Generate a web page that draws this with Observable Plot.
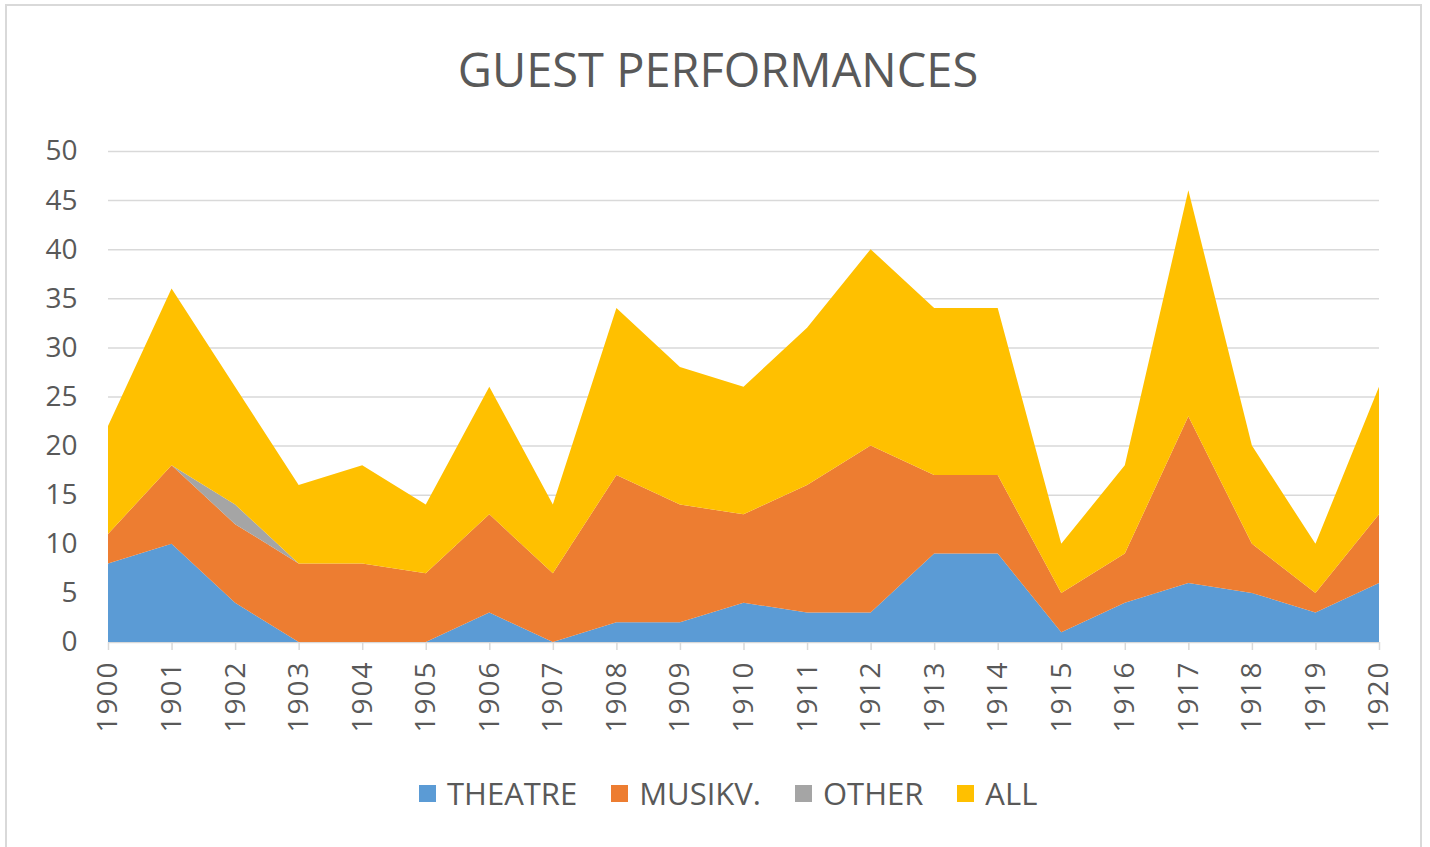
<!DOCTYPE html>
<html>
<head>
<meta charset="utf-8">
<script src="https://cdn.jsdelivr.net/npm/d3@7"></script>
<script src="https://cdn.jsdelivr.net/npm/@observablehq/plot@0.6"></script>
<style>
  html, body { margin: 0; padding: 0; background: #fff; width: 1430px; height: 847px; overflow: hidden; }
  #frame { position: absolute; left: 5px; top: 4px; width: 1413px; height: 900px; border: 2px solid #d9d9d9; box-sizing: content-box; }
  #title { position: absolute; left: 0; width: 1436px; top: 46px; text-align: center; font-family: "Open Sans"; font-size: 47px; line-height: 46px; color: #595959; }
  #chart { position: absolute; left: 0; top: 110px; }
  #chart g[aria-label="x-axis tick label"] text { letter-spacing: 2px; }
  #legend { position: absolute; left: 419px; top: 773px; display: flex; align-items: center; font-family: "Open Sans"; font-size: 31px; line-height: 40px; color: #595959; }
  .item { display: flex; align-items: center; margin-right: 34px; }
  .sw { width: 17px; height: 17px; margin-right: 11px; }
</style>
</head>
<body>
<div id="frame"></div>
<div id="title">GUEST PERFORMANCES</div>
<div id="chart"></div>
<div id="legend"></div>
<script>
const years = [1900,1901,1902,1903,1904,1905,1906,1907,1908,1909,1910,1911,1912,1913,1914,1915,1916,1917,1918,1919,1920];
const theatre = [8,10,4,0,0,0,3,0,2,2,4,3,3,9,9,1,4,6,5,3,6];
const musikv  = [3,8,8,8,8,7,10,7,15,12,9,13,17,8,8,4,5,17,5,2,7];
const other   = [0,0,2,0,0,0,0,0,0,0,0,0,0,0,0,0,0,0,0,0,0];
const all     = [11,18,12,8,10,7,13,7,17,14,13,16,20,17,17,5,9,23,10,5,13];
const seriesNames = ["THEATRE", "MUSIKV.", "OTHER", "ALL"];
const seriesColors = ["#5B9BD5", "#ED7D31", "#A5A5A5", "#FFC000"];
const yTicks = [0,5,10,15,20,25,30,35,40,45,50];

const seriesValues = [theatre, musikv, other, all];
const data = [];
seriesNames.forEach((s, i) => {
  years.forEach((y, j) => data.push({year: y, series: s, value: seriesValues[i][j]}));
});

const chart = Plot.plot({
  width: 1430,
  height: 650,
  marginTop: 41,
  marginBottom: 118,
  marginLeft: 108,
  marginRight: 51,
  style: {fontFamily: "Open Sans", background: "transparent", overflow: "visible"},
  x: {domain: [1900, 1920]},
  y: {domain: [0, 50]},
  color: {domain: seriesNames, range: seriesColors},
  marks: [
    Plot.gridY(yTicks, {stroke: "#d9d9d9", strokeOpacity: 1, strokeWidth: 1.5}),
    Plot.areaY(data, {x: "year", y: "value", z: "series", fill: "series", order: seriesNames, fillOpacity: 1}),
    Plot.axisY(yTicks, {tickSize: 0, tickPadding: 31, fontSize: 28, fill: "#595959", label: null}),
    Plot.axisX(years, {tickSize: 8, tickPadding: 10, tickRotate: -90, stroke: "#d9d9d9", strokeWidth: 1.5, fontSize: 28, fill: "#595959", tickFormat: d => String(d), label: null})
  ]
});
document.getElementById("chart").appendChild(chart);

const legend = document.getElementById("legend");
seriesNames.forEach((s, i) => {
  const item = document.createElement("div");
  item.className = "item";
  const sw = document.createElement("div");
  sw.className = "sw";
  sw.style.background = seriesColors[i];
  const t = document.createElement("span");
  t.textContent = s;
  item.appendChild(sw);
  item.appendChild(t);
  legend.appendChild(item);
});
</script>
</body>
</html>
